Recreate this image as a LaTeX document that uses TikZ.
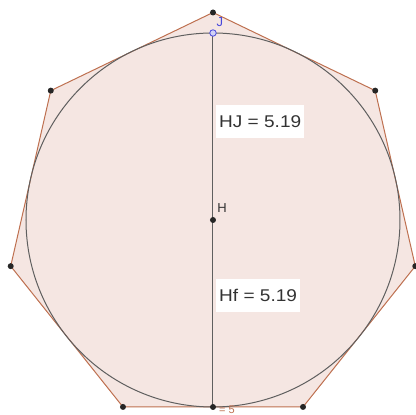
\documentclass[tikz,border=0pt]{standalone}
\usepackage{fontspec}
\setmainfont{Liberation Sans}
\usetikzlibrary{positioning}

\definecolor{polyfill}{RGB}{245,230,226}
\definecolor{polyedge}{RGB}{190,112,80}
\definecolor{circedge}{RGB}{95,95,95}
\definecolor{ptblue}{RGB}{70,70,220}

\begin{document}
\begin{tikzpicture}[x=1pt, y=1pt,
  dot/.style={circle, fill=black!85, inner sep=0pt, minimum size=6pt},
  valbox/.style={fill=white, inner xsep=3pt, minimum height=33pt, anchor=west,
    font=\fontsize{17}{17}\selectfont, text=black!80}]

  \useasboundingbox (-213,-195) rectangle (203,220);

  % ── heptagon and incircle ──────────────────────────────────────────────
  \def\R{207.5}\def\r{187}
  \foreach \k in {0,...,6}{
    \coordinate (v\k) at ({90+\k*360/7}:\R);
  }
  \fill[polyfill] (v0) -- (v1) -- (v2) -- (v3) -- (v4) -- (v5) -- (v6) -- cycle;
  \draw[polyedge, line width=1pt]
    (v0) -- (v1) -- (v2) -- (v3) -- (v4) -- (v5) -- (v6) -- cycle;
  \draw[circedge, line width=1pt] (0,0) circle (\r);

  % ── radius segment through the centre ──────────────────────────────────
  \coordinate (H) at (0,0);
  \coordinate (J) at (0,\r);
  \coordinate (f) at (0,-\r);
  \draw[circedge, line width=1pt] (J) -- (f);

  % ── points ─────────────────────────────────────────────────────────────
  \foreach \k in {0,...,6}{
    \node[dot] (pv\k) at (v\k) {};
  }
  \node[dot] (pH) at (H) {};
  \node[dot] (pf) at (f) {};
  \node[circle, draw=ptblue, fill=ptblue!25, line width=0.8pt,
    inner sep=0pt, minimum size=6.5pt] (pJ) at (J) {};

  % ── labels ─────────────────────────────────────────────────────────────
  \node[ptblue, font=\fontsize{13}{13}\selectfont] (lJ) at (7,198) {J};
  \node[black!80, font=\fontsize{13}{13}\selectfont] (lH) at (9,12) {H};
  \node[polyedge, anchor=north west, inner sep=0pt,
    font=\fontsize{11}{11}\selectfont] (lf) at (6,-186) {= 5};

  \node[valbox] (HJ) at (3,98.5) {\scalebox{1.12}[1]{HJ = 5.19}};
  \node[valbox] (Hf) at (3,-75.5) {\scalebox{1.12}[1]{Hf = 5.19}};

\end{tikzpicture}
\end{document}
